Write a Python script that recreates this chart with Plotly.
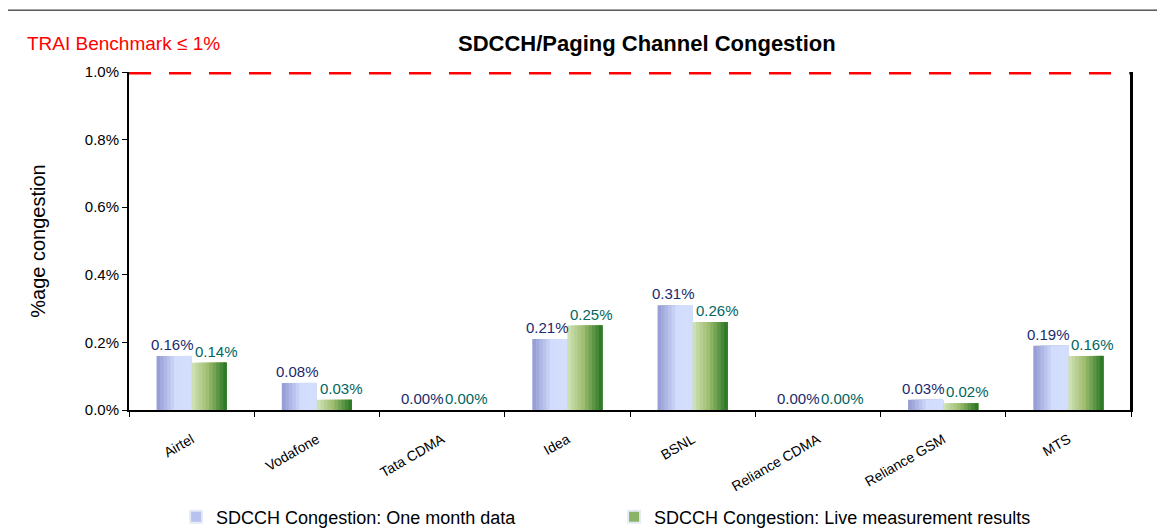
import plotly.graph_objects as go

categories = ["Airtel", "Vodafone", "Tata CDMA", "Idea", "BSNL", "Reliance CDMA", "Reliance GSM", "MTS"]
one_month = [0.16, 0.08, 0.00, 0.21, 0.31, 0.00, 0.03, 0.19]
live = [0.14, 0.03, 0.00, 0.25, 0.26, 0.00, 0.02, 0.16]
benchmark = 1.0
y_ticks = [0.0, 0.2, 0.4, 0.6, 0.8, 1.0]

series = [
    dict(name="SDCCH Congestion: One month data", values=one_month, side=-1,
         stops=[(0.0, (146, 152, 210)), (0.55, (210, 220, 252)), (1.0, (212, 222, 252))],
         legend_color="#b9c2ee", label_color="#1a2a6c", label_shift=-19.5),
    dict(name="SDCCH Congestion: Live measurement results", values=live, side=1,
         stops=[(0.0, (210, 228, 186)), (0.45, (160, 190, 112)), (1.0, (36, 116, 34))],
         legend_color="#8cb266", label_color="#00665e", label_shift=24.5),
]

BAR_W = 0.28
N_STRIPS = 10


def interp(stops, t):
    for (t0, c0), (t1, c1) in zip(stops[:-1], stops[1:]):
        if t0 <= t <= t1:
            f = 0 if t1 == t0 else (t - t0) / (t1 - t0)
            return "rgb(%d,%d,%d)" % tuple(round(a + (b - a) * f) for a, b in zip(c0, c1))
    return "rgb(%d,%d,%d)" % stops[-1][1]


fig = go.Figure()
for s in series:
    start = -BAR_W if s["side"] < 0 else 0.0
    sw = BAR_W / N_STRIPS
    for i in range(N_STRIPS):
        t = (i + 0.5) / N_STRIPS
        fig.add_trace(go.Bar(
            x=categories, y=s["values"], name=s["name"],
            width=BAR_W - i * sw, offset=start + i * sw,
            marker=dict(color=interp(s["stops"], t), line=dict(width=0)),
            showlegend=False, legendgroup=s["name"], hoverinfo="skip",
        ))
    # legend entry
    fig.add_trace(go.Bar(
        x=[categories[0]], y=[0], name=s["name"], legendgroup=s["name"],
        marker=dict(color=s["legend_color"]), width=0.0001, showlegend=True,
        hoverinfo="skip",
    ))
    for c, v in zip(categories, s["values"]):
        fig.add_annotation(x=c, y=v, text=f"{v:.2f}%", showarrow=False,
                           xshift=s["label_shift"], yshift=1, yanchor="bottom",
                           font=dict(color=s["label_color"], size=15,
                                     family="Liberation Sans, Arial"))

fig.add_shape(type="line", xref="paper", yref="y", x0=0, x1=1, y0=benchmark, y1=benchmark,
              line=dict(color="#ff0000", width=5, dash="22px,18px"))
fig.add_shape(type="line", xref="paper", yref="paper", x0=-0.13, x1=1.05, y0=1.183, y1=1.183,
              line=dict(color="black", width=1))

fig.add_annotation(text="<b>SDCCH/Paging Channel Congestion</b>", xref="paper", yref="paper",
                   x=0.517, y=1.085, showarrow=False, xanchor="center", yanchor="middle",
                   font=dict(size=22, color="black", family="Liberation Sans, Arial"))
fig.add_annotation(text="TRAI Benchmark ≤ 1%", xref="paper", yref="paper",
                   x=-0.104, y=1.085, showarrow=False, xanchor="left", yanchor="middle",
                   font=dict(size=19, color="#ff0000", family="Liberation Sans, Arial"))

fig.update_layout(
    width=1165, height=529,
    margin=dict(l=121, r=42, t=64, b=127, autoexpand=False),
    paper_bgcolor="white", plot_bgcolor="white",
    barmode="overlay",
    font=dict(family="Liberation Sans, Arial", color="black"),
    showlegend=True,
    legend=dict(orientation="h", x=0.047, xanchor="left", y=-0.262, yanchor="top",
                font=dict(size=18, family="Liberation Sans, Arial"),
                itemwidth=30, entrywidth=393, itemsizing="constant"),
    xaxis=dict(showline=True, linecolor="black", linewidth=2, mirror=False, automargin=False,
               ticks="outside", tickson="boundaries", ticklen=5, tickcolor="black",
               tickangle=-30, ticklabelstandoff=14,
               tickfont=dict(size=14, family="Liberation Sans, Arial")),
    yaxis=dict(range=[0, 1.0], tickvals=y_ticks, automargin=False,
               ticktext=[f"{v:.1f}%" for v in y_ticks],
               showline=True, linecolor="black", linewidth=2, mirror=True,
               ticks="outside", ticklen=5, tickcolor="black", showgrid=False, zeroline=False,
               tickfont=dict(size=15, family="Liberation Sans, Arial"),
               title=dict(text="%age congestion", font=dict(size=20), standoff=34)),
)
fig.add_shape(type="line", xref="paper", yref="paper", x0=1, x1=1, y0=0, y1=1,
              line=dict(color="black", width=2))

fig.write_html("out.html")
